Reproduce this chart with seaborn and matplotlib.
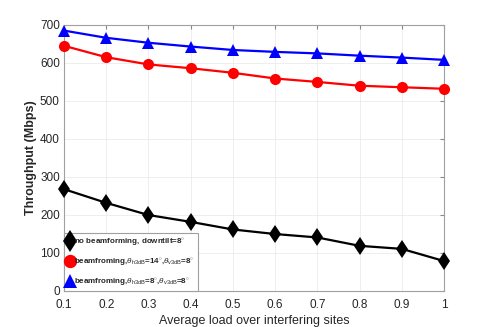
import matplotlib
matplotlib.use("Agg")
import matplotlib.pyplot as plt
import numpy as np
import pandas as pd
import seaborn as sns

# data
load = [0.1, 0.2, 0.3, 0.4, 0.5, 0.6, 0.7, 0.8, 0.9, 1.0]
no_bf = [267, 231, 199, 181, 161, 149, 140, 118, 110, 78]
bf_14 = [644, 614, 595, 585, 573, 558, 549, 539, 535, 531]
bf_8 = [684, 665, 652, 642, 633, 628, 624, 618, 613, 607]

labels = [
    r"no beamforming, downtilt=8$^{\circ}$",
    r"beamfroming,$\theta_{\rm h3dB}$=14$^{\circ}$,$\theta_{\rm v3dB}$=8$^{\circ}$",
    r"beamfroming,$\theta_{\rm h3dB}$=8$^{\circ}$,$\theta_{\rm v3dB}$=8$^{\circ}$",
]

df = pd.concat(
    [
        pd.DataFrame({"load": load, "tp": no_bf, "series": labels[0]}),
        pd.DataFrame({"load": load, "tp": bf_14, "series": labels[1]}),
        pd.DataFrame({"load": load, "tp": bf_8, "series": labels[2]}),
    ]
)

sns.set_style("whitegrid")
plt.rcParams["font.family"] = ["Liberation Sans Narrow", "Liberation Sans", "DejaVu Sans"]
plt.rcParams["mathtext.fontset"] = "custom"
plt.rcParams["mathtext.rm"] = "Liberation Sans"
plt.rcParams["mathtext.it"] = "Liberation Sans:italic"

fig = plt.figure(figsize=(4.91, 3.27), dpi=100)
ax = fig.add_axes([64 / 491, 1 - 290.7 / 327, 380 / 491, 266.2 / 327])

palette = {labels[0]: "black", labels[1]: "red", labels[2]: "blue"}
markers = {labels[0]: "d", labels[1]: "o", labels[2]: "^"}
sns.lineplot(
    data=df, x="load", y="tp", hue="series", style="series",
    palette=palette, markers=markers, dashes=False, linewidth=1.6,
    markersize=8, markeredgewidth=0, ax=ax,
)
for line in ax.lines:
    line.set_clip_on(False)
    line.set_zorder(5)
    if line.get_marker() == "d":
        line.set_markersize(9.5)

ax.set_xlim(0.1, 1.0)
ax.set_ylim(0, 700)
ax.set_xticks(load)
ax.set_xticklabels(["0.1", "0.2", "0.3", "0.4", "0.5", "0.6", "0.7", "0.8", "0.9", "1"])
ax.set_yticks(np.arange(0, 701, 100))
ax.tick_params(labelsize=8.5, direction="in", length=3, color="#888888",
               top=True, right=True)
ax.tick_params(axis="x", pad=6)
ax.tick_params(axis="y", pad=3)
ax.grid(True, color="#ebebeb", linewidth=0.6)
for s in ax.spines.values():
    s.set_color("#a0a0a0")
    s.set_linewidth(0.8)

ax.set_xlabel("Average load over interfering sites", fontsize=9, labelpad=3)
ax.set_ylabel("Throughput (Mbps)", fontsize=9, fontweight="bold", labelpad=2)

leg = ax.legend(
    loc="lower left", bbox_to_anchor=(0, 0), fontsize=5.8, frameon=True,
    fancybox=False, edgecolor="#a0a0a0", handlelength=0.8, handletextpad=0.15,
    borderpad=0.35, borderaxespad=0.0, labelspacing=1.05, markerscale=1.2,
)
leg.get_frame().set_linewidth(0.8)
leg.get_frame().set_alpha(1)
leg.set_zorder(10)
for h in leg.legend_handles:
    h.set_linestyle("none")
for t in leg.get_texts():
    t.set_fontweight("bold")

fig.savefig("out.png", dpi=100)
